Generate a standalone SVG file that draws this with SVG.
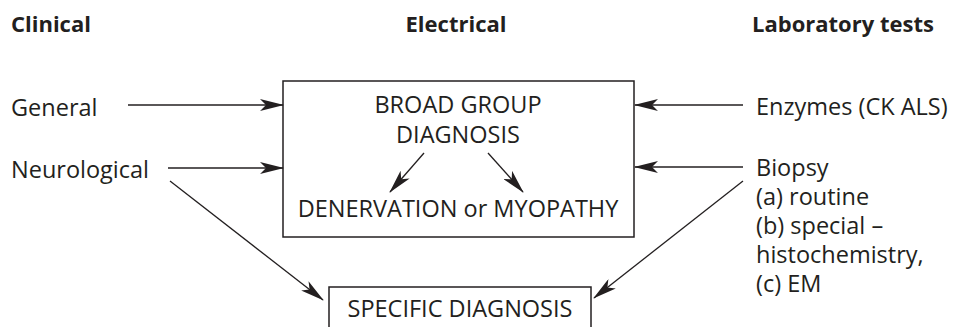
<svg xmlns="http://www.w3.org/2000/svg" width="955" height="327" viewBox="0 0 955 327">
  <style>
    text { font-family: "Open Sans", "Liberation Sans", sans-serif; font-size: 23.5px; fill: #231f20; }
    .head { font-weight: bold; font-size: 22px; }
    .box { fill: none; stroke: #231f20; stroke-width: 1.5; }
    .link { fill: none; stroke: #231f20; stroke-width: 1.3; marker-end: url(#arrow); }
  </style>
  <defs>
    <marker id="arrow" viewBox="0 0 24 12" refX="23" refY="6" markerWidth="24" markerHeight="12" markerUnits="userSpaceOnUse" orient="auto">
      <path d="M0,0 L24,6 L0,12 L6,6 Z" fill="#231f20"/>
    </marker>
  </defs>

  <!-- column headings -->
  <g id="headings">
    <text class="head" x="11" y="32">Clinical</text>
    <text class="head" x="456" y="32" text-anchor="middle">Electrical</text>
    <text class="head" x="752" y="32">Laboratory tests</text>
  </g>

  <g id="general"><text x="11" y="116">General</text></g>
  <g id="neurological"><text x="11" y="178">Neurological</text></g>

  <g id="broad-group">
    <rect class="box" x="283" y="81" width="351" height="156"/>
    <text x="458" y="113" text-anchor="middle">BROAD GROUP</text>
    <text x="458" y="143" text-anchor="middle">DIAGNOSIS</text>
    <text x="458" y="217" text-anchor="middle">DENERVATION or MYOPATHY</text>
  </g>

  <g id="enzymes"><text x="756" y="115">Enzymes (CK ALS)</text></g>

  <g id="biopsy">
    <text x="756" y="176">Biopsy</text>
    <text x="756" y="205">(a) routine</text>
    <text x="756" y="234">(b) special –</text>
    <text x="756" y="263">histochemistry,</text>
    <text x="756" y="292">(c) EM</text>
  </g>

  <g id="specific">
    <rect class="box" x="329" y="287" width="262" height="60"/>
    <text x="460" y="317" text-anchor="middle">SPECIFIC DIAGNOSIS</text>
  </g>

  <g id="connectors">
    <line class="link" x1="128" y1="105" x2="283" y2="105"/>
    <line class="link" x1="168" y1="168" x2="283" y2="168"/>
    <line class="link" x1="170" y1="181" x2="323" y2="300"/>
    <line class="link" x1="743" y1="105" x2="635" y2="105"/>
    <line class="link" x1="743" y1="167" x2="635" y2="167"/>
    <line class="link" x1="743" y1="181" x2="594" y2="298"/>
    <line class="link" x1="424" y1="153" x2="390" y2="192"/>
    <line class="link" x1="488" y1="153" x2="523" y2="192"/>
  </g>
</svg>
